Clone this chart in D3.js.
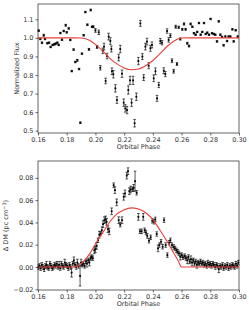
<!DOCTYPE html>
<html>
<head>
<meta charset="utf-8">
<script src="https://cdn.jsdelivr.net/npm/d3@7"></script>
<style>
  body { margin: 0; background: #fff; }
  svg { display: block; }
  .tick text { font-family: "DejaVu Sans", sans-serif; font-size: 6.5px; fill: #333; }
  .lbl { font-family: "DejaVu Sans", sans-serif; font-size: 6.5px; fill: #333; }
</style>
</head>
<body>
<svg width="249" height="310"></svg>
<script>
// top panel: normalized flux
var fluxPhase = [0.1605,0.1616,0.1628,0.164,0.1649,0.1665,0.1677,0.1688,0.1702,0.1714,0.1723,0.1735,0.1744,0.1756,0.1767,0.1779,0.1793,0.18,0.1814,0.1825,
  0.1835,0.1848,0.186,0.1874,0.1886,0.1895,0.1906,0.1918,0.193,0.1944,0.1955,0.1967,0.1976,0.1985,0.2,0.2011,0.2023,0.2034,0.2051,0.206,
  0.2071,0.2081,0.2092,0.2104,0.2111,0.2115,0.2125,0.2139,0.215,0.2162,0.2173,0.2185,0.2197,0.2208,0.222,0.2229,0.2241,0.2252,0.2262,0.2273,
  0.2285,0.2299,0.2313,0.2327,0.2336,0.2348,0.2359,0.2371,0.2383,0.2394,0.2406,0.2418,0.2429,0.2441,0.2452,0.2464,0.2476,0.2487,0.2499,0.251,
  0.2522,0.2533,0.2545,0.2559,0.2568,0.258,0.2591,0.2605,0.2617,0.2628,0.264,0.2652,0.2663,0.2675,0.2686,0.2698,0.2709,0.2721,0.2733,0.2744,
  0.2756,0.2768,0.2779,0.2791,0.2802,0.2812,0.2824,0.2835,0.2847,0.2859,0.287,0.2882,0.2893,0.2905,0.2917,0.2928,0.294,0.2954,0.2963,0.2977,0.2991];
var fluxValue = [1.039,0.994,0.974,1.014,0.994,0.971,0.974,0.951,0.962,0.965,0.969,0.974,0.962,1.026,0.990,1.037,1.068,1.030,1.051,0.989,
  0.821,0.937,0.870,0.879,0.832,0.543,0.915,1.014,1.139,1.071,0.938,1.150,1.060,1.060,1.040,0.951,1.030,0.839,0.930,0.953,
  0.768,0.902,1.007,0.983,0.940,0.820,0.804,0.728,0.665,0.894,0.940,0.807,0.651,0.620,0.611,0.719,0.771,0.651,0.771,0.540,
  0.683,0.875,1.078,0.899,0.786,0.953,0.980,0.850,0.944,0.962,0.782,0.820,0.674,0.746,0.983,0.974,0.823,0.805,1.037,0.989,
  1.012,0.877,0.820,1.060,0.859,1.057,0.994,1.046,1.075,1.046,0.971,0.956,1.075,1.060,1.025,1.017,1.032,1.080,1.017,1.032,
  1.080,1.021,1.028,1.017,1.102,1.025,1.021,1.017,0.981,1.089,1.017,1.005,0.960,1.007,0.983,1.007,1.007,1.046,0.981,1.041,1.007];
var fluxError = [0.004,0.004,0.004,0.005,0.004,0.004,0.004,0.004,0.004,0.004,0.004,0.004,0.004,0.004,0.004,0.004,0.005,0.004,0.004,0.004,
  0.004,0.004,0.004,0.005,0.004,0.004,0.004,0.004,0.004,0.004,0.005,0.005,0.004,0.005,0.010,0.008,0.012,0.012,0.015,0.018,
  0.015,0.015,0.018,0.018,0.016,0.018,0.020,0.020,0.018,0.018,0.020,0.020,0.020,0.020,0.020,0.022,0.022,0.020,0.022,0.020,
  0.020,0.020,0.016,0.016,0.016,0.018,0.018,0.016,0.016,0.016,0.018,0.018,0.016,0.014,0.014,0.012,0.016,0.014,0.012,0.012,
  0.010,0.010,0.010,0.008,0.008,0.006,0.006,0.005,0.006,0.005,0.005,0.005,0.005,0.004,0.004,0.004,0.004,0.004,0.004,0.004,
  0.004,0.004,0.004,0.004,0.004,0.004,0.004,0.004,0.004,0.004,0.004,0.004,0.004,0.004,0.004,0.004,0.004,0.004,0.004,0.004,0.004];
var fluxModelPhase = [0.16,0.185,0.19,0.195,0.2,0.205,0.21,0.215,0.22,0.225,0.23,0.235,0.24,0.245,0.25,0.255,0.26,0.265,0.30];
var fluxModel = [1.0,1.0,0.999,0.99,0.965,0.93,0.89,0.86,0.838,0.828,0.832,0.85,0.878,0.915,0.955,0.985,0.999,1.0,1.0];
var fluxTicks = [0.5,0.6,0.7,0.8,0.9,1.0,1.1];

// bottom panel: dispersion measure excess
var dmPhase = [0.1603,0.1611,0.1619,0.1627,0.1635,0.1643,0.1651,0.1659,0.1667,0.1675,0.1683,0.1691,0.1699,0.1707,0.1715,0.1723,0.1731,0.1739,0.1747,0.1755,
  0.1763,0.1771,0.1779,0.1787,0.1795,0.1803,0.1811,0.1819,0.1827,0.1834,0.1842,0.185,0.1858,0.1866,0.1874,0.1882,0.1893,0.19,0.1908,0.1916,
  0.1925,0.1933,0.1941,0.195,0.1958,0.1966,0.1974,0.1982,0.1992,0.2,0.2009,0.2018,0.2027,0.2036,0.2045,0.2053,0.2062,0.2071,0.2078,0.2087,
  0.2096,0.2113,0.2127,0.2136,0.2148,0.2162,0.2173,0.2185,0.2197,0.2206,0.2218,0.2227,0.2236,0.2245,0.2257,0.2266,0.2276,0.2287,0.2299,0.231,
  0.2322,0.2333,0.2343,0.2352,0.2361,0.2373,0.2385,0.2396,0.2408,0.2417,0.2427,0.2436,0.2445,0.2457,0.2468,0.2478,0.2489,0.2501,0.2513,0.2522,
  0.2533,0.2545,0.2554,0.2564,0.2573,0.2582,0.2591,0.2601,0.261,0.2622,0.263,0.264,0.2648,0.2656,0.2665,0.2673,0.2682,0.269,0.2698,0.2707,
  0.2715,0.2724,0.2732,0.2741,0.2749,0.2758,0.2766,0.2775,0.2783,0.2792,0.28,0.2808,0.2817,0.2825,0.2834,0.2842,0.2851,0.2859,0.2868,0.2876,
  0.2885,0.2893,0.2902,0.291,0.2919,0.2927,0.2936,0.2944,0.2953,0.2961,0.297,0.2978,0.2987,0.2995];
var dmValue = [0.000,0.001,-0.001,0.002,0.000,-0.002,0.001,0.002,0.000,-0.001,0.003,0.001,-0.001,0.000,0.002,0.001,0.003,0.000,0.002,-0.001,
  0.003,0.001,0.000,0.004,0.002,0.001,-0.001,0.002,0.000,-0.005,0.003,0.006,0.002,0.000,0.004,0.001,-0.008,0.004,0.002,0.003,
  0.001,0.005,0.003,0.006,0.004,0.008,0.009,0.008,0.015,0.016,0.019,0.024,0.029,0.030,0.033,0.0385,0.042,0.0427,0.0406,0.034,
  0.032,0.050,0.0734,0.069,0.058,0.042,0.038,0.042,0.063,0.066,0.082,0.086,0.068,0.0695,0.0698,0.071,0.077,0.0666,0.045,0.032,
  0.032,0.045,0.033,0.031,0.028,0.0236,0.0266,0.0415,0.0406,0.0427,0.0296,0.0167,0.0197,0.0227,0.0182,0.042,0.0197,0.0107,0.0218,0.024,
  0.0197,0.018,0.0167,0.015,0.0137,0.0122,0.0093,0.0107,0.0087,0.0098,0.008,0.006,0.009,0.005,0.007,0.004,0.006,0.003,0.005,0.002,
  0.004,0.003,0.005,0.003,0.004,0.002,0.003,0.001,0.004,0.002,0.003,0.001,0.003,0.002,0.000,0.002,0.001,-0.002,0.001,0.000,
  0.002,-0.001,0.001,0.000,0.002,-0.001,0.001,0.000,0.002,0.001,0.000,0.003,0.001,0.004];
var dmError = [0.002,0.002,0.002,0.002,0.002,0.002,0.002,0.003,0.002,0.002,0.002,0.002,0.002,0.002,0.002,0.002,0.002,0.002,0.003,0.002,
  0.002,0.002,0.002,0.003,0.002,0.002,0.002,0.002,0.002,0.004,0.002,0.003,0.002,0.002,0.003,0.002,0.009,0.003,0.002,0.002,
  0.002,0.002,0.003,0.002,0.003,0.002,0.002,0.002,0.003,0.003,0.003,0.002,0.003,0.002,0.003,0.003,0.003,0.003,0.003,0.003,
  0.003,0.003,0.002,0.003,0.003,0.003,0.002,0.003,0.003,0.003,0.003,0.003,0.003,0.003,0.002,0.003,0.009,0.002,0.003,0.002,
  0.002,0.003,0.002,0.002,0.002,0.002,0.002,0.002,0.002,0.002,0.002,0.003,0.002,0.002,0.002,0.002,0.002,0.002,0.002,0.002,
  0.002,0.002,0.002,0.002,0.002,0.002,0.003,0.002,0.002,0.002,0.002,0.003,0.002,0.002,0.003,0.003,0.002,0.002,0.002,0.003,
  0.002,0.002,0.002,0.002,0.002,0.002,0.002,0.002,0.002,0.002,0.002,0.002,0.002,0.002,0.002,0.002,0.002,0.003,0.002,0.002,
  0.002,0.002,0.002,0.002,0.002,0.002,0.002,0.002,0.002,0.002,0.002,0.002,0.002,0.002];
var dmModelPhase = [0.16,0.185,0.1916,0.1962,0.2009,0.2055,0.2101,0.2148,0.2194,0.2254,0.231,0.2357,0.2403,0.245,0.2496,0.2543,0.2577,0.2601,0.30];
var dmModel = [0,0,0.0048,0.0122,0.0227,0.0316,0.0406,0.0475,0.051,0.0531,0.0516,0.048,0.042,0.033,0.0236,0.0131,0.0054,0,0];
var dmTicks = [-0.02,0.00,0.02,0.04,0.06,0.08];

var phaseTicks = [0.16,0.18,0.20,0.22,0.24,0.26,0.28,0.30];

var svg = d3.select("svg");
var left = 38, right = 239;

function panel(top, bottom, yDomain, px, py, pe, mx, my, yTicks, yFmt, ylabelX, ylabel) {
    var x = d3.scaleLinear().domain([0.16, 0.30]).range([left, right]);
    var y = d3.scaleLinear().domain(yDomain).range([bottom, top]);
    var g = svg.append("g");

    g.append("g")
        .attr("transform", "translate(0," + bottom + ")")
        .call(d3.axisBottom(x).tickValues(phaseTicks).tickFormat(d3.format(".2f")).tickSize(2.5).tickPadding(2))
        .call(function (a) { a.select(".domain").remove(); a.selectAll("line").attr("stroke", "#000").attr("stroke-width", 0.6); });
    g.append("g")
        .attr("transform", "translate(" + left + ",0)")
        .call(d3.axisLeft(y).tickValues(yTicks).tickFormat(yFmt).tickSize(2.5).tickPadding(2))
        .call(function (a) { a.select(".domain").remove(); a.selectAll("line").attr("stroke", "#000").attr("stroke-width", 0.6); });

    var pts = px.map(function (d, i) { return {x: d, y: py[i], e: pe[i]}; });
    var eb = g.append("g").attr("stroke", "#111").attr("stroke-width", 0.7);
    eb.selectAll("line.v").data(pts).enter().append("line")
        .attr("x1", function (d) { return x(d.x); }).attr("x2", function (d) { return x(d.x); })
        .attr("y1", function (d) { return y(d.y - d.e); }).attr("y2", function (d) { return y(d.y + d.e); });
    [-1, 1].forEach(function (s) {
        eb.selectAll("line.c" + s).data(pts).enter().append("line")
            .attr("x1", function (d) { return x(d.x) - 1.3; }).attr("x2", function (d) { return x(d.x) + 1.3; })
            .attr("y1", function (d) { return y(d.y + s * d.e); }).attr("y2", function (d) { return y(d.y + s * d.e); });
    });
    g.append("g").selectAll("rect").data(pts).enter().append("rect")
        .attr("x", function (d) { return x(d.x) - 0.9; }).attr("y", function (d) { return y(d.y) - 0.9; })
        .attr("width", 1.8).attr("height", 1.8).attr("fill", "#000");

    var model = mx.map(function (d, i) { return [d, my[i]]; });
    g.append("path").datum(model)
        .attr("fill", "none").attr("stroke", "#e8403a").attr("stroke-width", 1.1)
        .attr("d", d3.line().x(function (d) { return x(d[0]); }).y(function (d) { return y(d[1]); }).curve(d3.curveMonotoneX));

    g.append("rect").attr("x", left).attr("y", top).attr("width", right - left).attr("height", bottom - top)
        .attr("fill", "none").attr("stroke", "#222").attr("stroke-width", 0.7);

    g.append("text").attr("class", "lbl").attr("text-anchor", "middle")
        .attr("x", (left + right) / 2).attr("y", bottom + 16).text("Orbital Phase");
    var yl = g.append("text").attr("class", "lbl").attr("text-anchor", "middle")
        .attr("transform", "translate(" + ylabelX + "," + (top + bottom) / 2 + ") rotate(-90)");
    ylabel(yl);
}

panel(4, 133, [0.4875, 1.1825], fluxPhase, fluxValue, fluxError, fluxModelPhase, fluxModel,
    fluxTicks, d3.format(".1f"), 19, function (t) { t.text("Normalized Flux"); });

panel(161, 290, [-0.0206, 0.0951], dmPhase, dmValue, dmError, dmModelPhase, dmModel,
    dmTicks, function (d) { return d3.format(".2f")(d).replace("-", "\u2212"); }, 8, function (t) {
        t.append("tspan").text("\u0394 DM (pc cm");
        t.append("tspan").attr("dy", -2.5).attr("font-size", "5px").text("\u22123");
        t.append("tspan").attr("dy", 2.5).text(")");
    });
</script>
</body>
</html>
